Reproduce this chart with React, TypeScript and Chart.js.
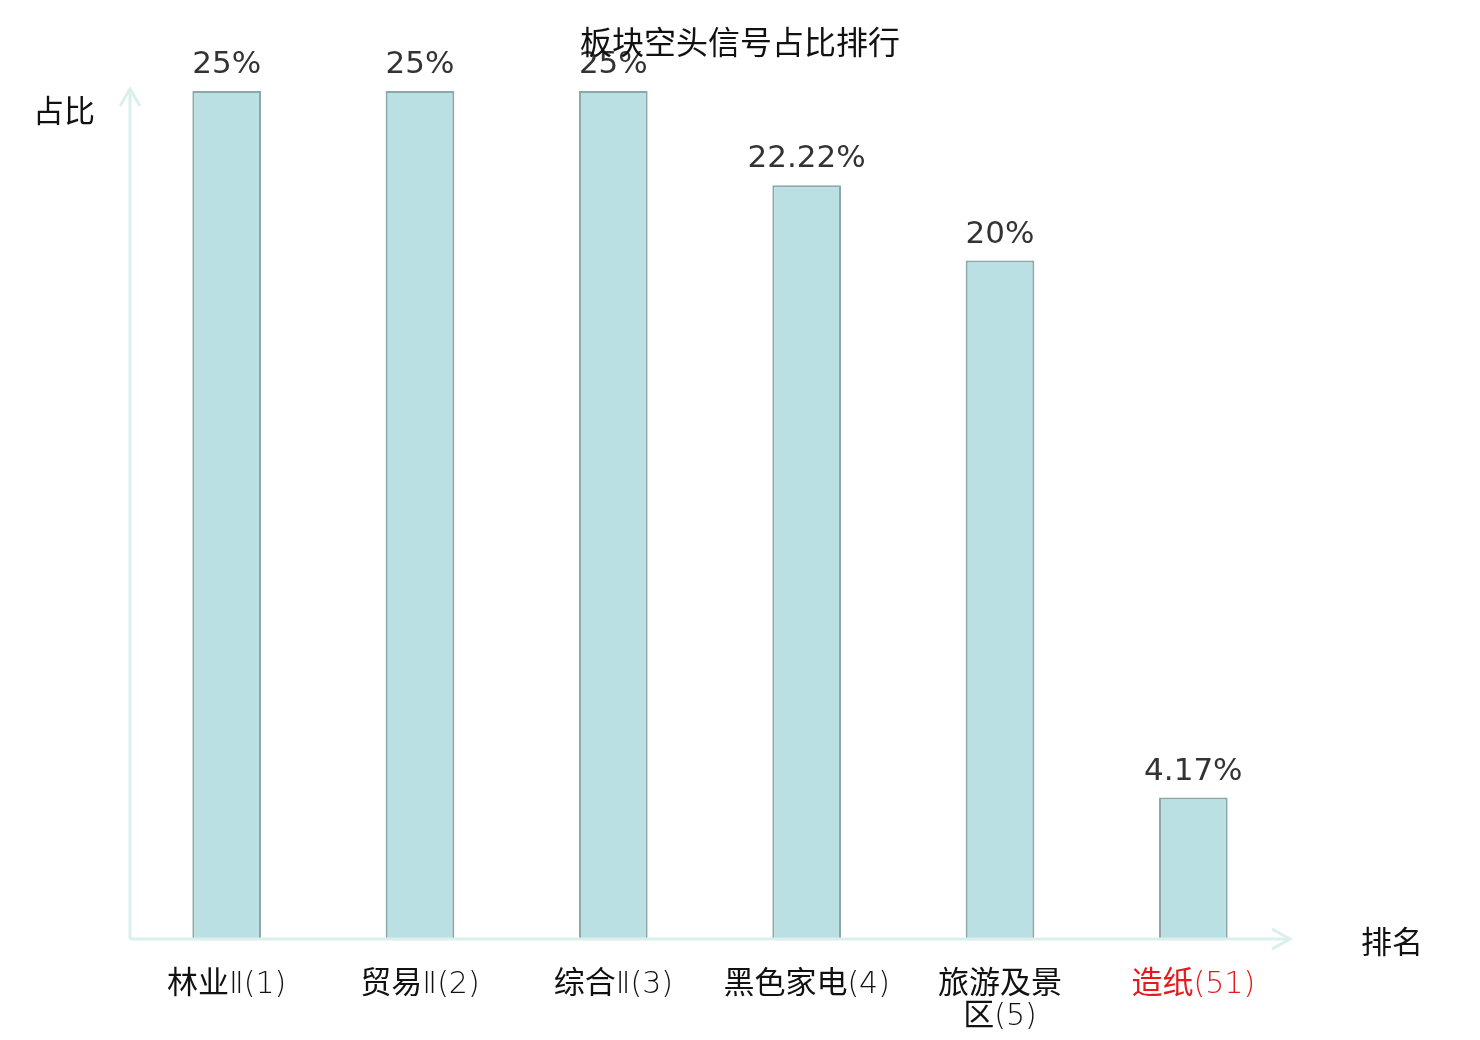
import { useEffect, useRef } from "react";
import { Chart, registerables } from "chart.js";

Chart.register(...registerables);

const CATEGORIES: (string | string[])[] = [
  "林业Ⅱ(1)",
  "贸易Ⅱ(2)",
  "综合Ⅱ(3)",
  "黑色家电(4)",
  ["旅游及景", "区(5)"],
  "造纸(51)",
];
const SHARE = [25, 25, 25, 22.22, 20, 4.17];
const VALUE_LABELS = ["25%", "25%", "25%", "22.22%", "20%", "4.17%"];
const LABEL_COLORS = ["#111", "#111", "#111", "#111", "#111", "#e41a1c"];

const TITLE = "板块空头信号占比排行";
const Y_NAME = "占比";
const X_NAME = "排名";

const AXIS_COLOR = "#daf0ed";
const CJK = '"Noto Sans CJK SC", "Noto Sans", sans-serif';
const CJK_FONT = `31px ${CJK}`;
const LATIN_FONT = `200 30px "DejaVu Sans", ${CJK}`;

// split a label into runs of CJK / other characters
function runs(text: string) {
  const out: { t: string; cjk: boolean }[] = [];
  for (const ch of text) {
    const cjk = /[\u3400-\u9fff]/.test(ch);
    const last = out[out.length - 1];
    if (last && last.cjk === cjk) last.t += ch;
    else out.push({ t: ch, cjk });
  }
  return out;
}

function drawMixed(ctx: CanvasRenderingContext2D, text: string, cx: number, baseline: number) {
  const parts = runs(text);
  let total = 0;
  const widths = parts.map((p) => {
    ctx.font = p.cjk ? CJK_FONT : LATIN_FONT;
    const w = ctx.measureText(p.t).width;
    total += w;
    return w;
  });
  let x = cx - total / 2;
  ctx.textAlign = "left";
  parts.forEach((p, i) => {
    ctx.font = p.cjk ? CJK_FONT : LATIN_FONT;
    ctx.fillText(p.t, x, baseline);
    x += widths[i];
  });
}

const overlay = {
  id: "overlay",
  afterDatasetsDraw(chart: Chart) {
    const { ctx, chartArea } = chart;
    const x = chart.scales.x;
    const y = chart.scales.y;
    const left = chartArea.left;
    const bottom = chartArea.bottom;
    const right = chartArea.right;
    const top = chartArea.top - 2;

    ctx.save();
    // axes with arrows
    ctx.strokeStyle = AXIS_COLOR;
    ctx.lineWidth = 3;
    ctx.beginPath();
    ctx.moveTo(left, bottom);
    ctx.lineTo(right, bottom);
    ctx.moveTo(left, bottom);
    ctx.lineTo(left, top);
    ctx.stroke();
    ctx.beginPath();
    ctx.moveTo(left - 10, top + 17);
    ctx.lineTo(left, top);
    ctx.lineTo(left + 10, top + 17);
    ctx.moveTo(right - 18, bottom - 10);
    ctx.lineTo(right, bottom);
    ctx.lineTo(right - 18, bottom + 10);
    ctx.stroke();

    // value labels
    ctx.fillStyle = "#333";
    ctx.font = '31px "DejaVu Sans", sans-serif';
    ctx.textAlign = "center";
    ctx.textBaseline = "alphabetic";
    SHARE.forEach((v, i) => {
      ctx.fillText(VALUE_LABELS[i], x.getPixelForValue(i), y.getPixelForValue(v) - 18);
    });

    // category labels
    CATEGORIES.forEach((c, i) => {
      const lines = Array.isArray(c) ? c : [c];
      ctx.fillStyle = LABEL_COLORS[i];
      lines.forEach((ln, k) => {
        drawMixed(ctx, ln, x.getPixelForValue(i), bottom + 54 + k * 32);
      });
    });

    // axis names
    ctx.fillStyle = "#111";
    ctx.font = CJK_FONT;
    ctx.textAlign = "left";
    ctx.textBaseline = "middle";
    ctx.fillText(Y_NAME, 33, 110);
    ctx.fillText(X_NAME, 1361, 941);

    // title
    ctx.font = `32px ${CJK}`;
    ctx.textAlign = "center";
    ctx.fillText(TITLE, chart.width / 2, 42);
    ctx.restore();
  },
};

export default function App() {
  const canvasRef = useRef<HTMLCanvasElement>(null);
  const chartRef = useRef<Chart | null>(null);

  useEffect(() => {
    if (!canvasRef.current) return;
    const ctx = canvasRef.current.getContext("2d");
    if (!ctx) return;
    chartRef.current?.destroy();

    chartRef.current = new Chart(ctx, {
      type: "bar",
      data: {
        labels: CATEGORIES,
        datasets: [
          {
            data: SHARE,
            backgroundColor: "#bbe0e3",
            borderColor: "#8ca7a9",
            borderWidth: 2,
            barPercentage: 0.355,
            categoryPercentage: 1,
          },
        ],
      },
      options: {
        animation: false,
        responsive: true,
        maintainAspectRatio: false,
        layout: { padding: { left: 130, right: 190, top: 91, bottom: 101 } },
        plugins: {
          legend: { display: false },
          tooltip: { enabled: false },
        },
        scales: {
          x: { display: false },
          y: { display: false, min: 0, max: 25 },
        },
      },
      plugins: [overlay],
    });

    return () => {
      chartRef.current?.destroy();
      chartRef.current = null;
    };
  }, []);

  return (
    <div style={{ position: "fixed", left: 0, top: 0, width: 1480, height: 1040, background: "#fff" }}>
      <canvas ref={canvasRef} />
    </div>
  );
}
